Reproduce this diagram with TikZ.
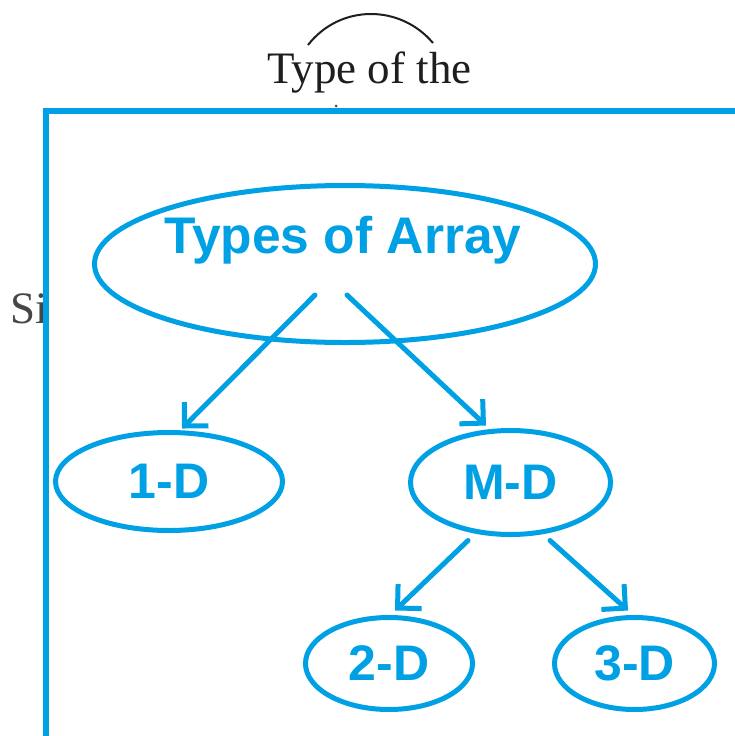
\documentclass[tikz,border=0pt]{standalone}
\usepackage{fontspec}
\setmainfont{Liberation Serif}
\newfontfamily\labelfont{Liberation Sans}
\usetikzlibrary{shapes.geometric,arrows.meta}
\definecolor{skyblue}{RGB}{0,160,228}
\definecolor{inkblack}{RGB}{30,30,30}
\definecolor{inkgray}{RGB}{70,70,70}
\begin{document}
\begin{tikzpicture}[x=1pt,y=-1pt,
  bubble/.style={ellipse, draw=skyblue, line width=5pt, inner sep=0pt,
    text=skyblue, font=\labelfont\bfseries\fontsize{50}{50}\selectfont},
  bubbletext/.style={inner sep=0pt, text=skyblue,
    font=\labelfont\bfseries\fontsize{51.5}{52}\selectfont},
  link/.style={draw=skyblue, line width=5pt, line cap=round,
    -{Straight Barb[angle=90:24pt]}},
  frame/.style={draw=skyblue, line width=6pt},
  serifnote/.style={inner sep=0pt, anchor=base west,
    font=\fontsize{45}{45}\selectfont}]

\useasboundingbox (0,0) rectangle (735,736);

% heading text with an arc above it
\node[serifnote, text=inkblack] (heading) at (267,83) {Type of the};
\draw[inkblack, line width=2pt] (308,45) .. controls (340,4) and (400,4) .. (433,43);
\fill[inkgray] (336,106) circle (1.5pt);

% partly hidden word at the left margin
\node[serifnote, text=inkgray] (sideword) at (10,323) {Si};

% frame
\draw[frame] (46,742) -- (46,111) -- (742,111);

% tree nodes
\node[bubble, minimum width=501pt, minimum height=157pt] (types) at (345,264) {};
\node[bubbletext] (typestext) at (343,240) {Types of Array};
\node[bubble, minimum width=227pt, minimum height=98pt] (one) at (169,481.5) {1-D};
\node[bubble, minimum width=200pt, minimum height=104pt] (multi) at (510.5,482.5) {M-D};
\node[bubble, minimum width=167pt, minimum height=92pt] (two) at (389,663.5) {2-D};
\node[bubble, minimum width=160pt, minimum height=92pt] (three) at (634.5,663.5) {3-D};

% connector starts
\coordinate (fromtypesL) at (315,295);
\coordinate (fromtypesR) at (347,295);
\coordinate (frommultiL) at ([xshift=-42.5pt,yshift=-3.5pt]multi.south);
\coordinate (frommultiR) at ([xshift=39.5pt,yshift=-3.5pt]multi.south);

% connectors
\draw[link] (fromtypesL) -- ([xshift=13pt,yshift=1.5pt]one.north);
\draw[link] (fromtypesR) -- ([xshift=-24.5pt,yshift=2.5pt]multi.north);
\draw[link] (frommultiL) -- ([xshift=6pt,yshift=4.5pt]two.north);
\draw[link] (frommultiR) -- ([xshift=-6.5pt,yshift=4.5pt]three.north);
\end{tikzpicture}
\end{document}
